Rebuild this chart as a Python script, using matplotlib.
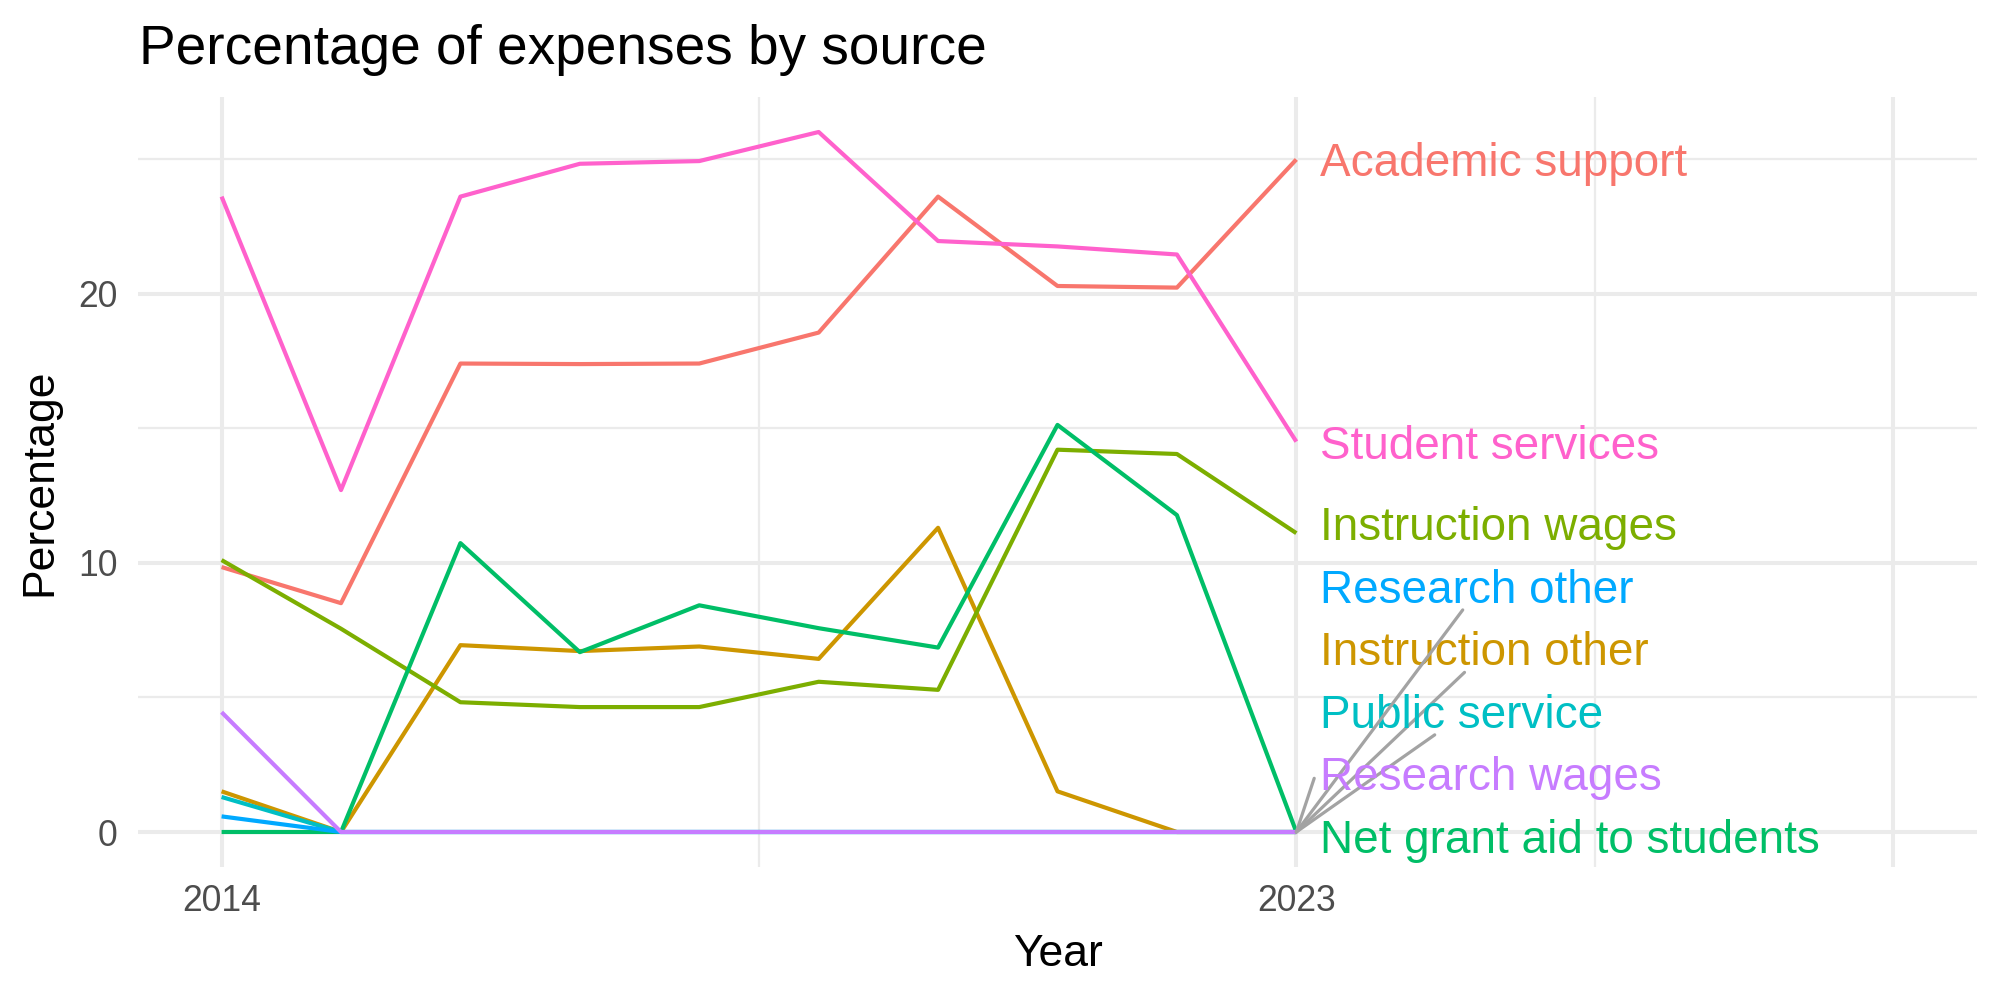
import matplotlib
matplotlib.use("Agg")
import matplotlib.pyplot as plt
import numpy as np

plt.rcParams['font.family'] = ['Liberation Sans', 'DejaVu Sans']

# ---------------- data ----------------
years = [2014, 2015, 2016, 2017, 2018, 2019, 2020, 2021, 2022, 2023]
academic_support = [9.84, 8.50, 17.40, 17.38, 17.40, 18.55, 23.60, 20.28, 20.22, 24.98]
instruction_other = [1.51, 0.0, 6.94, 6.72, 6.89, 6.43, 11.30, 1.51, 0.0, 0.0]
instruction_wages = [10.10, 7.55, 4.82, 4.64, 4.64, 5.58, 5.28, 14.20, 14.04, 11.10]
net_grant_aid = [0.0, 0.0, 10.73, 6.68, 8.42, 7.57, 6.85, 15.12, 11.77, 0.0]
public_service = [1.30, 0.0, 0.0, 0.0, 0.0, 0.0, 0.0, 0.0, 0.0, 0.0]
research_other = [0.58, 0.0, 0.0, 0.0, 0.0, 0.0, 0.0, 0.0, 0.0, 0.0]
research_wages = [4.45, 0.0, 0.0, 0.0, 0.0, 0.0, 0.0, 0.0, 0.0, 0.0]
student_services = [23.60, 12.70, 23.60, 24.82, 24.92, 26.00, 21.95, 21.75, 21.45, 14.50]

series_names = ["Academic support", "Instruction other", "Instruction wages",
                "Net grant aid to students", "Public service", "Research other",
                "Research wages", "Student services"]
series_values = [academic_support, instruction_other, instruction_wages,
                 net_grant_aid, public_service, research_other,
                 research_wages, student_services]
series_colors = ["#F8766D", "#CD9600", "#7CAE00", "#00BE67",
                 "#00BFC4", "#00A9FF", "#C77CFF", "#FF61CC"]

# label stacking order (bottom -> top) at the last year
label_stack = ["Net grant aid to students", "Research wages", "Public service",
               "Instruction other", "Research other", "Instruction wages",
               "Student services", "Academic support"]

x_breaks = [2014, 2023, 2028]
x_tick_labels = ["2014", "2023", ""]
y_breaks = [0, 10, 20]

title = "Percentage of expenses by source"
x_title = "Year"
y_title = "Percentage"

# ---------------- figure ----------------
W, H, DPI = 10, 5, 200
fig = plt.figure(figsize=(W, H), dpi=DPI)
ax = fig.add_axes([0.069, 0.133, 0.9195, 0.770])

# limits with ggplot-like 5% expansion
xmin, xmax = min(x_breaks), max(x_breaks)
xr = xmax - xmin
ax.set_xlim(xmin - 0.05 * xr, xmax + 0.05 * xr)
all_vals = np.concatenate([np.asarray(v) for v in series_values])
ymin, ymax = all_vals.min(), all_vals.max()
yr = ymax - ymin
ax.set_ylim(ymin - 0.05 * yr, ymax + 0.05 * yr)

# grid
grid_col = "#EBEBEB"
ax.set_xticks(x_breaks)
ax.set_xticklabels(x_tick_labels)
ax.set_yticks(y_breaks)
xminor = [(a + b) / 2 for a, b in zip(x_breaks[:-1], x_breaks[1:])]
ystep = y_breaks[1] - y_breaks[0]
yminor = [b + ystep / 2 for b in y_breaks]
ax.set_xticks(xminor, minor=True)
ax.set_yticks(yminor, minor=True)
ax.grid(which='major', color=grid_col, linewidth=1.45)
ax.grid(which='minor', color=grid_col, linewidth=0.8)
ax.set_axisbelow(True)
for s in ax.spines.values():
    s.set_visible(False)
ax.tick_params(which='both', length=0)
ax.tick_params(axis='x', pad=6.0, labelsize=12.8, labelcolor="#4D4D4D")
ax.tick_params(axis='y', pad=7.4, labelsize=12.8, labelcolor="#4D4D4D")

# lines
for name, vals, col in zip(series_names, series_values, series_colors):
    ax.plot(years, vals, color=col, linewidth=1.5, solid_capstyle='butt',
            solid_joinstyle='round', zorder=3)

# titles
fig.text(0.0695, 1 - 64 / 1000, title, fontsize=19.8, ha='left', va='baseline', color='black')
ax.set_xlabel(x_title, fontsize=16, color='black')
ax.xaxis.set_label_coords(0.5, (867 - 950) / 770)
ax.xaxis.label.set_verticalalignment('center_baseline')
ax.set_ylabel(y_title, fontsize=16, color='black')
ax.yaxis.label.set_verticalalignment('center')
ax.yaxis.set_label_coords((40 - 138) / 1839, 0.5)

# ---------------- repelled labels ----------------
last_x = years[-1]
last_val = {n: v[-1] for n, v in zip(series_names, series_values)}
gap = 2.32
label_y = {}
prev = None
for n in label_stack:
    v = last_val[n]
    if prev is None:
        p = v - 0.14
    else:
        p = max(v, prev + gap)
    label_y[n] = p
    prev = p

label_dx = 0.2
texts = {}
for i, (n, col) in enumerate(zip(series_names, series_colors)):
    texts[n] = ax.text(last_x + label_dx, label_y[n], n, color=col, fontsize=16.5,
                       ha='left', va='center_baseline', zorder=10 + 2 * i)

fig.canvas.draw()
renderer = fig.canvas.get_renderer()
to_disp = ax.transData
to_data = ax.transData.inverted()
for i, n in enumerate(series_names):
    bb = texts[n].get_window_extent(renderer)
    px, py = to_disp.transform((last_x, last_val[n]))
    cx, cy = (bb.x0 + bb.x1) / 2, (bb.y0 + bb.y1) / 2
    b0 = bb.y0 + 3          # bottom edge of the label box
    x0 = bb.x0 - 6          # left edge of the label box
    if py >= b0:
        continue
    # intersection of line point -> label centre with the bottom edge
    t = (b0 - py) / (cy - py)
    ex, ey = px + t * (cx - px), b0
    ang = np.degrees(np.arctan2(ey - py, ex - px))
    if ex < x0 or ang < 25:
        ex, ey = x0, cy
    if np.hypot(ex - px, ey - py) < 25:
        continue
    dx, dy = to_data.transform((ex, ey))
    ax.plot([last_x, dx], [last_val[n], dy], color="#A3A3A3", linewidth=1.15,
            zorder=9 + 2 * i, solid_capstyle='round', clip_on=False)

fig.savefig("out.png", dpi=DPI, facecolor='white')
